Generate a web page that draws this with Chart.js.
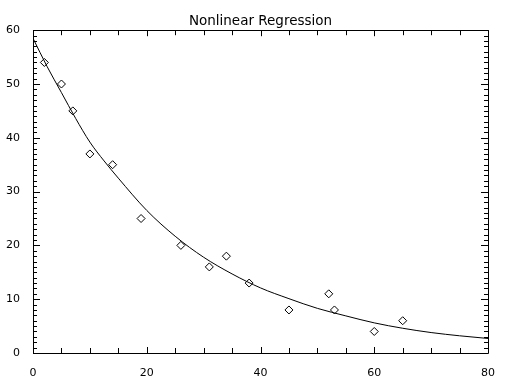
<!DOCTYPE html>
<html>
<head>
<meta charset="utf-8">
<script src="https://cdn.jsdelivr.net/npm/chart.js@4"></script>
<style>
  html, body { margin: 0; padding: 0; background: #ffffff; }
  #wrap { width: 508px; height: 385px; }
</style>
</head>
<body>
<div id="wrap"><canvas id="chart" width="508" height="385"></canvas></div>
<script>
// === DATI MISURATI ===
const xData = [2, 5, 7, 10, 14, 19, 26, 31, 34, 38, 45, 52, 53, 60, 65];
const yData = [54, 50, 45, 37, 35, 25, 20, 16, 18, 13, 8, 11, 8, 4, 6];

// === CURVA DI REGRESSIONE ===
const fitX = [0, 2.5, 5, 7.5, 10, 12.5, 15, 20, 25, 30, 35, 40, 45, 50, 55, 60, 65, 70, 75, 80];
const fitY = [58.5, 53.2, 48.4, 43.6, 39.2, 35.7, 32.5, 26.5, 21.7, 17.8, 14.7, 12.1, 10.1, 8.3, 6.9, 5.6, 4.6, 3.8, 3.2, 2.7];

// === ASSI ===
const xRange = [0, 80];
const yRange = [0, 60];
const xTickLabels = [0, 20, 40, 60, 80];
const yTickLabels = [0, 10, 20, 30, 40, 50, 60];

const FONT = "'DejaVu Sans', sans-serif";

// riquadro con tacche interne stile IDL
const boxTicks = {
    id: "boxTicks",
    afterDatasetsDraw(chart) {
        const { ctx, chartArea: a, scales } = chart;
        const xs = scales.x, ys = scales.y;
        ctx.save();
        ctx.strokeStyle = "#000000";
        ctx.lineWidth = 1;
        ctx.beginPath();
        ctx.rect(Math.round(a.left) + 0.5, Math.round(a.top) + 0.5,
                 Math.round(a.right - a.left), Math.round(a.bottom - a.top));
        ctx.stroke();

        ctx.beginPath();
        for (let v = xRange[0]; v <= xRange[1]; v += 5) {
            const px = Math.round(xs.getPixelForValue(v)) + 0.5;
            const len = xTickLabels.includes(v) ? 6 : 5;
            ctx.moveTo(px, a.bottom);
            ctx.lineTo(px, a.bottom - len);
            ctx.moveTo(px, a.top);
            ctx.lineTo(px, a.top + len);
        }
        for (let v = yRange[0]; v <= yRange[1]; v += 1) {
            const py = Math.round(ys.getPixelForValue(v)) + 0.5;
            const len = yTickLabels.includes(v) ? 7 : 4;
            ctx.moveTo(a.left, py);
            ctx.lineTo(a.left + len, py);
            ctx.moveTo(a.right, py);
            ctx.lineTo(a.right - len, py);
        }
        ctx.stroke();
        ctx.restore();
    }
};

new Chart(document.getElementById("chart"), {
    type: "scatter",
    data: {
        datasets: [
            {
                label: "Dati",
                data: xData.map((x, i) => ({ x: x, y: yData[i] })),
                pointStyle: "rectRot",
                pointRadius: 4,
                pointBorderWidth: 1,
                pointBorderColor: "#000000",
                pointBackgroundColor: "rgba(0,0,0,0)",
                showLine: false
            },
            {
                label: "Regressione",
                data: fitX.map((x, i) => ({ x: x, y: fitY[i] })),
                showLine: true,
                pointRadius: 0,
                borderColor: "#000000",
                borderWidth: 1,
                cubicInterpolationMode: "monotone",
                fill: false
            }
        ]
    },
    options: {
        responsive: false,
        animation: false,
        events: [],
        layout: { padding: { top: 0, right: 20, bottom: 0, left: 0 } },
        plugins: {
            legend: { display: false },
            tooltip: { enabled: false },
            title: {
                display: true,
                text: "Nonlinear Regression",
                fullSize: false,
                color: "#000000",
                font: { family: FONT, size: 13.5, weight: "normal", lineHeight: 1.2 },
                padding: { top: 13, bottom: 1 }
            }
        },
        scales: {
            x: {
                type: "linear",
                min: xRange[0],
                max: xRange[1],
                grid: { display: false },
                border: { display: false },
                afterFit: (s) => { s.height = 32; },
                afterBuildTicks: (s) => { s.ticks = xTickLabels.map(v => ({ value: v })); },
                ticks: { color: "#000000", padding: 6, maxRotation: 0, font: { family: FONT, size: 11 } }
            },
            y: {
                type: "linear",
                min: yRange[0],
                max: yRange[1],
                grid: { display: false },
                border: { display: false },
                afterFit: (s) => { s.width = 33; },
                afterBuildTicks: (s) => { s.ticks = yTickLabels.map(v => ({ value: v })); },
                ticks: { color: "#000000", padding: 5, font: { family: FONT, size: 11 } }
            }
        }
    },
    plugins: [boxTicks]
});
</script>
</body>
</html>
